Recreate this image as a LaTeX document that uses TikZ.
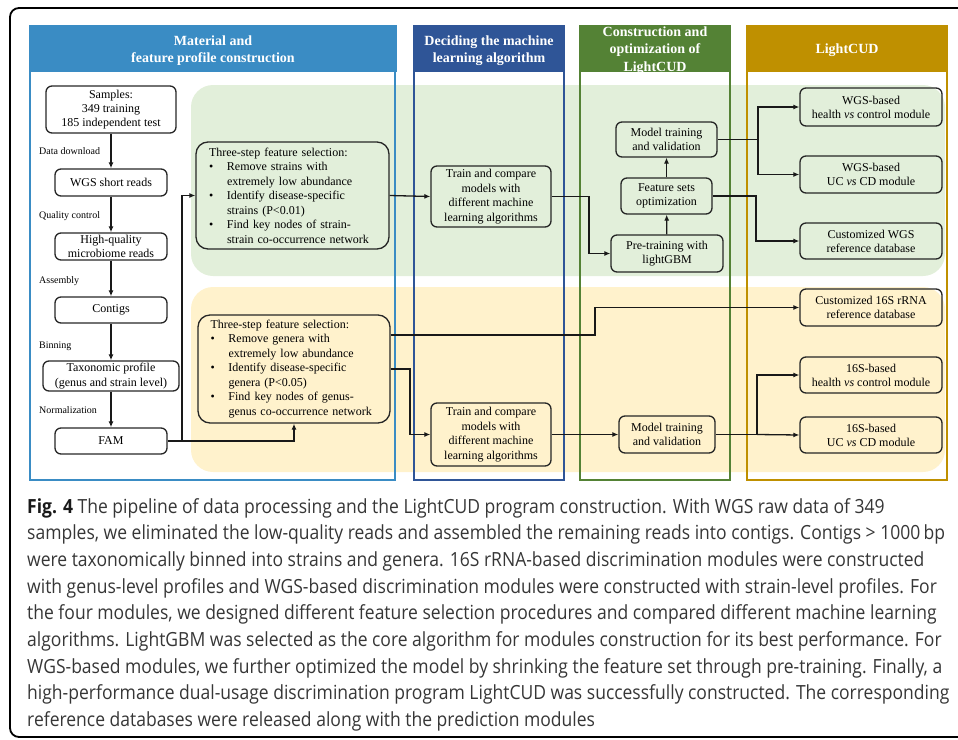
\documentclass[tikz,border=0pt]{standalone}
\usepackage{fontspec}
\setmainfont{Liberation Serif}
\newfontfamily\capfont[FakeStretch=0.898]{Open Sans}
\usetikzlibrary{arrows.meta,calc}
\definecolor{cBlue}{HTML}{3A8CC4}
\definecolor{cDBlue}{HTML}{2F5597}
\definecolor{cGreen}{HTML}{548235}
\definecolor{cGold}{HTML}{BF9000}
\definecolor{bgGreen}{HTML}{E2EFDA}
\definecolor{bgYellow}{HTML}{FFF2CC}
\definecolor{capGray}{HTML}{363636}
\newcommand{\bitem}{\makebox[18pt][l]{\textbullet}}
\newcommand{\bcont}{\hspace*{18pt}}
\begin{document}
\begin{tikzpicture}[x=1pt,y=-1pt,
  box/.style={draw=black!85, line width=1.3pt, rounded corners=6pt, align=center,
    inner sep=0pt, font=\fontsize{12}{14}\selectfont},
  selbox/.style={draw=black!85, line width=1.3pt, rounded corners=12pt, align=left,
    inner sep=0pt, text width=167pt, font=\fontsize{12}{14.5}\selectfont},
  lab/.style={anchor=west, inner sep=0pt, font=\fontsize{10}{12}\selectfont},
  head/.style={text=white, align=center, inner sep=0pt, font=\bfseries\fontsize{14}{17.5}\selectfont},
  arr/.style={line width=1.3pt, black!90, -{Latex[length=6pt,width=5pt]}},
  ln/.style={line width=1.3pt, black!90},
  panel/.style={line width=2pt}
]
\useasboundingbox (0,0) rectangle (958,739);
\clip (0,0) rectangle (958,739);

% outer frame
\draw[line width=1.8pt, rounded corners=9pt] (1000,8) -- (10,8) -- (10,737) -- (1000,737);

% backgrounds
\fill[bgGreen, rounded corners=22pt] (191,85) rectangle (945,276);
\fill[bgYellow, rounded corners=22pt] (191,287) rectangle (945,472);

% column panels
\draw[panel, cBlue] (30,60) rectangle (395,480);
\fill[cBlue] (29,25) rectangle (397,72);
\node[head] (h1) at (213,50.5) {Material and\\feature profile construction};

\draw[panel, cDBlue] (414,60) rectangle (564,480);
\fill[cDBlue] (413,25) rectangle (565,72);
\node[head] (h2) at (489,50.5) {Deciding the machine\\learning algorithm};

\draw[panel, cGreen] (580,60) rectangle (730,480);
\fill[cGreen] (579,25) rectangle (731,72);
\node[head] (h3) at (655,50.5) {Construction and\\optimization of\\LightCUD};

\draw[panel, cGold] (747,60) rectangle (947,480);
\fill[cGold] (746,25) rectangle (948,72);
\node[head] (h4) at (847,50) {LightCUD};

% left column
\node[box, minimum width=130, minimum height=47] (samples) at (111,109.5) {Samples:\\349 training\\185 independent test};
\node[box, minimum width=112, minimum height=27] (wgs) at (111,182.5) {WGS short reads};
\node[box, minimum width=112, minimum height=27, font=\fontsize{12}{14.5}\selectfont] (hq) at (111,246.5) {High-quality\\microbiome reads};
\node[box, minimum width=112, minimum height=26] (contigs) at (111,310) {Contigs};
\node[box, minimum width=136, minimum height=30, font=\fontsize{12}{14.5}\selectfont] (tax) at (111,376) {Taxonomic profile\\(genus and strain level)};
\node[box, minimum width=112, minimum height=26] (fam) at (111,441) {FAM};

\node[lab] (l1) at (39,151) {Data download};
\node[lab] (l2) at (39,216) {Quality control};
\node[lab] (l3) at (39,281) {Assembly};
\node[lab] (l4) at (39,346) {Binning};
\node[lab] (l5) at (39,410) {Normalization};

% feature selection
\node[selbox, minimum width=193, minimum height=107] (ts1) at (292.5,195.5) {Three-step feature selection:\\
\bitem Remove strains with\\ \bcont extremely low abundance\\
\bitem Identify disease-specific\\ \bcont strains (P<0.01)\\
\bitem Find key nodes of strain-\\ \bcont strain co-occurrence network};
\node[selbox, minimum width=192, minimum height=108] (ts2) at (294,369) {Three-step feature selection:\\
\bitem Remove genera with\\ \bcont extremely low abundance\\
\bitem Identify disease-specific\\ \bcont genera (P<0.05)\\
\bitem Find key nodes of genus-\\ \bcont genus co-occurrence network};

% middle columns
\node[box, minimum width=120, minimum height=61, font=\fontsize{12}{14.5}\selectfont] (tc1) at (491,196.5) {Train and compare\\models with\\different machine\\learning algorithms};
\node[box, minimum width=120, minimum height=63, font=\fontsize{12}{14.5}\selectfont] (tc2) at (491,434.5) {Train and compare\\models with\\different machine\\learning algorithms};
\node[box, minimum width=101, minimum height=35] (mt1) at (666.5,139.5) {Model training\\and validation};
\node[box, minimum width=91, minimum height=36] (fs) at (666.5,196) {Feature sets\\optimization};
\node[box, minimum width=112, minimum height=37] (pt) at (667,253.5) {Pre-training with\\lightGBM};
\node[box, minimum width=96, minimum height=37] (mt2) at (667,434.5) {Model training\\and validation};

% right column
\node[box, minimum width=142, minimum height=38] (wh) at (871,107) {WGS-based\\health \textit{vs} control module};
\node[box, minimum width=142, minimum height=37] (wu) at (871,174.5) {WGS-based\\UC \textit{vs} CD module};
\node[box, minimum width=142, minimum height=36] (cw) at (871,241) {Customized WGS\\reference database};
\node[box, minimum width=142, minimum height=37] (c16) at (871,307.5) {Customized 16S rRNA\\reference database};
\node[box, minimum width=142, minimum height=36] (sh) at (871,375) {16S-based\\health \textit{vs} control module};
\node[box, minimum width=142, minimum height=36] (su) at (871,435) {16S-based\\UC \textit{vs} CD module};

% connectors left column
\draw[arr] (samples) -- (wgs);
\draw[arr] (wgs) -- (hq);
\draw[arr] (hq) -- (contigs);
\draw[arr] (contigs) -- (tax);
\draw[arr] (tax) -- (fam);
\coordinate (j0) at (182,441);
\draw[arr] (fam.east) -| (ts2.south);
\draw[arr] (j0) |- (ts1.west);

% WGS branch
\draw[arr] (ts1.east) -- (tc1.west);
\draw[arr] (tc1.east) -- (589,196.5) |- (pt.west);
\draw[arr] (pt) -- (fs);
\draw[arr] (fs) -- (mt1);
\coordinate (jA) at (758,139.5);
\draw[ln] (mt1.east) -- (jA);
\draw[arr] (jA) |- (wh.west);
\draw[arr] (jA) |- (wu.west);
\draw[arr] (fs.east) -- (756,196) |- (cw.west);

% 16S branch
\draw[arr] (ts2.east |- 0,335) -- (595,335) |- (c16.west);
\draw[arr] (ts2.east) -- (410,369) |- (tc2.west);
\draw[arr] (tc2) -- (mt2);
\coordinate (jB) at (757,434.5);
\draw[ln] (mt2.east) -- (jB);
\draw[arr] (jB) |- (sh.west);
\draw[arr] (jB) -- (su.west);

% caption
\node[anchor=base west, inner sep=0pt, text=capGray] (cap) at (27,513) {\parbox[t]{940pt}{\capfont\fontsize{19.5}{26.7}\selectfont\raggedright\leavevmode
{\color{black!90}\bfseries Fig. 4} The pipeline of data processing and the LightCUD program construction. With WGS raw data of 349\\
samples, we eliminated the low-quality reads and assembled the remaining reads into contigs. Contigs > 1000\,bp\\
were taxonomically binned into strains and genera. 16S rRNA-based discrimination modules were constructed\\
with genus-level profiles and WGS-based discrimination modules were constructed with strain-level profiles. For\\
the four modules, we designed different feature selection procedures and compared different machine learning\\
algorithms. LightGBM was selected as the core algorithm for modules construction for its best performance. For\\
WGS-based modules, we further optimized the model by shrinking the feature set through pre-training. Finally, a\\
high-performance dual-usage discrimination program LightCUD was successfully constructed. The corresponding\\
reference databases were released along with the prediction modules}};
\end{tikzpicture}
\end{document}
